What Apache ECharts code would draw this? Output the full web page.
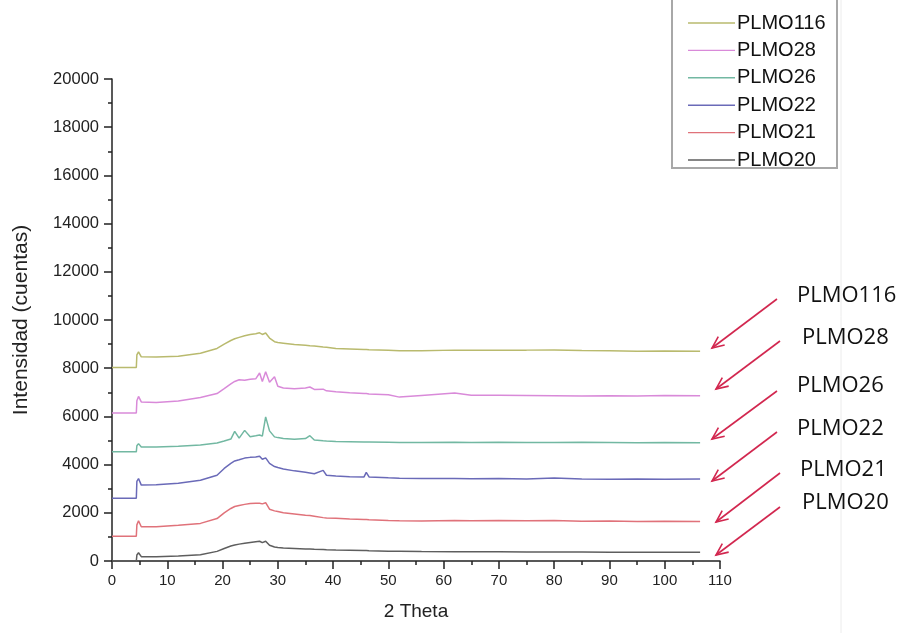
<!DOCTYPE html>
<html><head><meta charset="utf-8">
<script src="https://cdn.jsdelivr.net/npm/echarts@6/dist/echarts.min.js"></script>
<style>html,body{margin:0;padding:0;background:#fff}#c{width:904px;height:633px}</style>
</head><body><div id="c"></div>
<script>
var theta = [0, 4.4, 4.5, 4.8, 5.3, 8, 12, 16, 19, 20.3, 21.5, 22.2, 23, 24, 25, 26, 26.7, 27.2, 27.8, 28.5, 29.4, 30, 31, 33, 35, 35.8, 36.6, 38.2, 38.8, 40.5, 43, 45.6, 46, 46.5, 50, 52, 56, 62, 65, 70, 75, 80, 85, 90, 95, 100, 106.4];
var plmo116 = [8030, 8030, 8550, 8680, 8470, 8460, 8500, 8620, 8820, 9000, 9150, 9220, 9280, 9350, 9400, 9430, 9470, 9400, 9460, 9250, 9100, 9070, 9040, 8980, 8950, 8930, 8920, 8880, 8870, 8820, 8800, 8780, 8780, 8770, 8740, 8720, 8720, 8750, 8740, 8750, 8750, 8760, 8730, 8720, 8700, 8710, 8700];
var plmo28 = [6140, 6140, 6650, 6830, 6600, 6580, 6640, 6780, 6950, 7150, 7350, 7450, 7520, 7500, 7540, 7560, 7800, 7450, 7850, 7420, 7650, 7250, 7180, 7150, 7180, 7220, 7120, 7130, 7060, 7020, 6980, 6950, 6950, 6930, 6900, 6800, 6870, 6970, 6880, 6880, 6870, 6860, 6850, 6860, 6850, 6870, 6860];
var plmo26 = [4530, 4530, 4780, 4870, 4730, 4730, 4760, 4810, 4900, 4980, 5060, 5380, 5100, 5420, 5160, 5200, 5230, 5180, 5980, 5400, 5150, 5120, 5080, 5050, 5080, 5200, 5020, 4990, 4980, 4960, 4950, 4940, 4940, 4940, 4930, 4920, 4920, 4930, 4920, 4930, 4920, 4920, 4930, 4920, 4910, 4920, 4910];
var plmo22 = [2600, 2600, 3300, 3420, 3150, 3160, 3230, 3350, 3560, 3840, 4050, 4150, 4200, 4270, 4300, 4320, 4350, 4220, 4280, 4050, 3920, 3880, 3820, 3740, 3680, 3650, 3620, 3760, 3560, 3530, 3500, 3490, 3680, 3490, 3450, 3430, 3420, 3420, 3410, 3420, 3400, 3440, 3400, 3390, 3400, 3390, 3400];
var plmo21 = [1030, 1030, 1500, 1670, 1420, 1420, 1480, 1560, 1760, 2000, 2180, 2260, 2300, 2350, 2390, 2400, 2400, 2370, 2420, 2150, 2080, 2050, 2000, 1950, 1900, 1890, 1860, 1800, 1780, 1770, 1740, 1720, 1720, 1710, 1680, 1670, 1660, 1680, 1670, 1680, 1670, 1680, 1650, 1660, 1640, 1650, 1640];
var plmo20 = [0, 0, 250, 340, 180, 180, 210, 260, 400, 520, 620, 660, 700, 740, 770, 800, 820, 760, 820, 650, 580, 560, 540, 520, 500, 500, 490, 480, 470, 460, 450, 440, 440, 430, 400, 400, 390, 380, 380, 380, 370, 370, 370, 360, 360, 360, 360];
var seriesNames = ['PLMO116', 'PLMO28', 'PLMO26', 'PLMO22', 'PLMO21', 'PLMO20'];
var seriesValues = [plmo116, plmo28, plmo26, plmo22, plmo21, plmo20];
var seriesColors = ['#b9ba6e', '#d98ad9', '#72b8a2', '#6a6ab8', '#e0727a', '#5e5e5e'];
var annotLabels = ['PLMO116', 'PLMO28', 'PLMO26', 'PLMO22', 'PLMO21', 'PLMO20'];

var chart = echarts.init(document.getElementById('c'));
var font = '"Liberation Sans", Arial, sans-serif';

function pairs(v) { return theta.map(function (t, i) { return [t, v[i]]; }); }

var series = seriesNames.map(function (n, k) {
  return {
    name: n, type: 'line', data: pairs(seriesValues[k]), showSymbol: false, symbol: 'none',
    lineStyle: { color: seriesColors[k], width: 1.5 }, itemStyle: { color: seriesColors[k] },
    animation: false, z: 3
  };
});

var annot = [
  { tx: 797, ty: 296, x1: 777, y1: 299, x2: 712, y2: 348 },
  { tx: 802, ty: 338, x1: 780, y1: 341, x2: 716, y2: 389 },
  { tx: 797, ty: 386, x1: 777, y1: 391, x2: 712, y2: 439 },
  { tx: 797, ty: 429, x1: 777, y1: 432, x2: 712, y2: 481 },
  { tx: 800, ty: 470, x1: 780, y1: 473, x2: 716, y2: 522 },
  { tx: 802, ty: 503, x1: 780, y1: 507, x2: 716, y2: 555 }
];
var graphics = [
  { type: 'line', shape: { x1: 841, y1: 0, x2: 841, y2: 633 }, style: { stroke: '#ececec', lineWidth: 1 }, z: 0 },
  { type: 'rect', shape: { x: 672, y: -4, width: 165, height: 172 }, style: { fill: '#fff', stroke: '#a8a8a8', lineWidth: 2 }, z: 10 }
];
annot.forEach(function (a, i) {
  var red = '#d2274f';
  graphics.push({ type: 'line', shape: { x1: a.x1, y1: a.y1, x2: a.x2, y2: a.y2 }, style: { stroke: red, lineWidth: 1.6 }, z: 20 });
  var dx = a.x1 - a.x2, dy = a.y1 - a.y2, L = Math.sqrt(dx * dx + dy * dy);
  var ux = dx / L, uy = dy / L, h = 13, ang = 0.42;
  function rot(c, s) { return [a.x2 + h * (ux * c - uy * s), a.y2 + h * (ux * s + uy * c)]; }
  var p1 = rot(Math.cos(ang), Math.sin(ang)), p2 = rot(Math.cos(-ang), Math.sin(-ang));
  graphics.push({ type: 'polyline', shape: { points: [p1, [a.x2, a.y2], p2] }, style: { stroke: red, lineWidth: 1.6, fill: null }, z: 20 });
  graphics.push({ type: 'text', x: a.tx, y: a.ty, style: { text: annotLabels[i], font: '22px "Open Sans", sans-serif', fill: '#111', textVerticalAlign: 'middle', verticalAlign: 'middle' }, z: 20 });
});

chart.setOption({
  backgroundColor: '#fff',
  animation: false,
  grid: { left: 112, right: 184, top: 79, bottom: 72, containLabel: false },
  legend: {
    orient: 'vertical', left: 683, top: 8, itemGap: 7.4, itemWidth: 47, itemHeight: 20,
    icon: 'path://M0,9.3 L47,9.3 L47,10.7 L0,10.7 Z',
    data: seriesNames, selectedMode: false, z: 15,
    textStyle: { fontFamily: font, fontSize: 20, color: '#111', lineHeight: 20, padding: [0, 0, 0, -3] }
  },
  xAxis: {
    type: 'value', min: 0, max: 110, interval: 10,
    name: '2 Theta', nameLocation: 'middle', nameGap: 41,
    nameTextStyle: { fontFamily: font, fontSize: 19, color: '#222' },
    axisLine: { show: true, lineStyle: { color: '#222', width: 1.5 } },
    axisTick: { show: true, length: 8, lineStyle: { color: '#222', width: 1.5 } },
    minorTick: { show: true, splitNumber: 2, length: 4, lineStyle: { color: '#222', width: 1.5 } },
    axisLabel: { fontFamily: font, fontSize: 15, color: '#222', margin: 12 },
    splitLine: { show: false }
  },
  yAxis: {
    type: 'value', min: 0, max: 20000, interval: 2000,
    name: 'Intensidad (cuentas)', nameLocation: 'middle', nameGap: 80,
    nameTextStyle: { fontFamily: font, fontSize: 21, color: '#222' },
    axisLine: { show: true, lineStyle: { color: '#222', width: 1.5 } },
    axisTick: { show: true, length: 8, lineStyle: { color: '#222', width: 1.5 } },
    minorTick: { show: true, splitNumber: 2, length: 4, lineStyle: { color: '#222', width: 1.5 } },
    axisLabel: { fontFamily: font, fontSize: 16.5, color: '#222', margin: 13, formatter: function (v) { return String(v); } },
    splitLine: { show: false }
  },
  graphic: graphics,
  series: series
});
</script>
</body></html>
